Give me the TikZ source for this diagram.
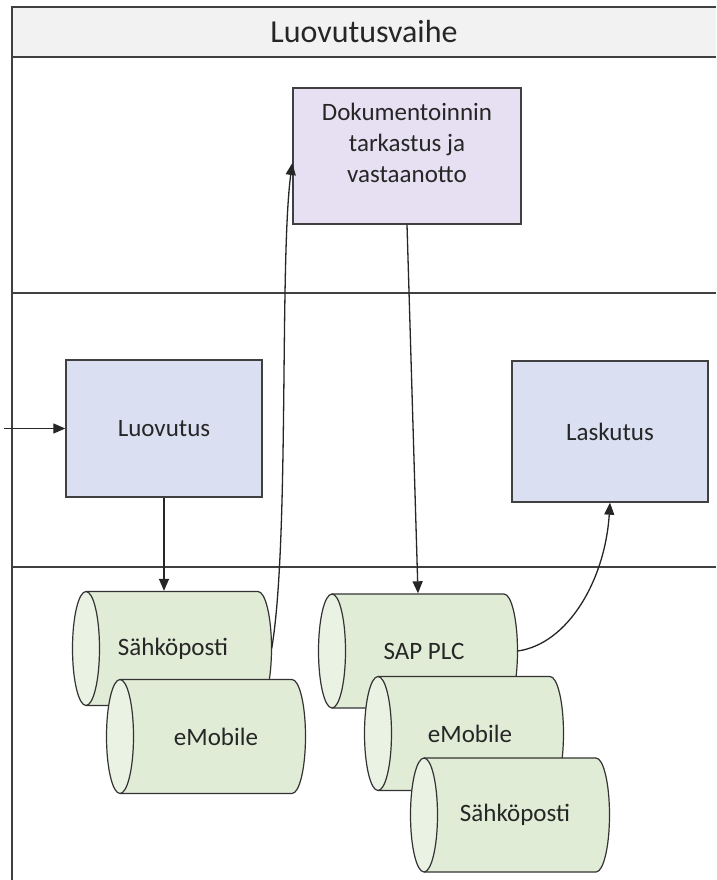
\documentclass[tikz,border=0pt]{standalone}
\usepackage{fontspec}
\setmainfont{Carlito}
\usetikzlibrary{arrows.meta}
\definecolor{frameline}{RGB}{64,64,64}
\definecolor{headfill}{RGB}{242,242,242}
\definecolor{taskfill}{RGB}{218,224,242}
\definecolor{reviewfill}{RGB}{230,224,242}
\definecolor{drumfill}{RGB}{224,236,214}
\definecolor{drumface}{RGB}{234,242,228}
\definecolor{ink}{RGB}{38,38,38}

% horizontal data store: #1 name, #2 centre x, #3 centre y, #4 text, #5 text offset
\newcommand\drumshape[5]{%
  \fill[drumfill] (#2-86,#3-57) -- (#2+86,#3-57)
    arc[start angle=90,end angle=-90,x radius=13.5pt,y radius=57pt]
    -- (#2-86,#3+57) -- cycle;
  \draw[drumline] (#2-86,#3-57) -- (#2+86,#3-57)
    arc[start angle=90,end angle=-90,x radius=13.5pt,y radius=57pt]
    -- (#2-86,#3+57);
  \draw[drumline, fill=drumface] (#2-86,#3) ellipse[x radius=13.5pt,y radius=57pt];
  \node[drumhold] (#1) at (#2,#3) {};
  \node[lbl] (#1-text) at (#2+#5,#3) {#4};
}

\begin{document}
\begin{tikzpicture}[x=1pt,y=-1pt,
  lane/.style={draw=frameline, line width=1.8pt},
  task/.style={draw=frameline, line width=1.4pt, inner sep=0pt,
    font=\fontsize{25}{31}\selectfont, text=ink, align=center},
  drumline/.style={draw=black!80, line width=1.2pt},
  drumhold/.style={inner sep=0pt, minimum width=199pt, minimum height=115pt},
  lbl/.style={font=\fontsize{25}{31}\selectfont, text=ink, align=center, inner sep=0pt},
  flow/.style={draw=black!85, line width=1.3pt, -{Triangle[length=12pt,width=10pt]}},
]
\useasboundingbox (0,0) rectangle (716,880);
\fill[white] (0,0) rectangle (716,880);

% header band and swimlane rules
\fill[headfill] (12,7) rectangle (716,57);
\node[lbl, font=\fontsize{32}{38}\selectfont] (title) at (364,32) {Luovutusvaihe};
\draw[lane] (716,7) -- (12,7) -- (12,880);
\draw[lane] (12,57) -- (716,57);
\draw[lane] (12,293) -- (716,293);
\draw[lane] (12,567) -- (716,567);

% process steps
\node[task, fill=reviewfill, minimum width=228pt, minimum height=136pt] (dok) at (407,156) {};
\node[lbl] (dok-text) at (407,143) {Dokumentoinnin\\tarkastus ja\\vastaanotto};
\node[task, fill=taskfill, minimum width=196pt, minimum height=137pt] (luov) at (164,428.5) {Luovutus};
\node[task, fill=taskfill, minimum width=196pt, minimum height=141pt] (las) at (610,431.5) {Laskutus};

% data stores
\drumshape{s1}{172}{648.5}{Sähköposti}{1}
\drumshape{e1}{206}{736.5}{eMobile}{10}
\drumshape{sap}{418}{651}{SAP PLC}{6}
\drumshape{e2}{464}{733.5}{eMobile}{6}
\drumshape{s2}{510}{815}{Sähköposti}{5}

% flows
\coordinate (entry) at (4,428.5);
\draw[flow] (entry) -- (luov.west);
\draw[flow] (luov.south) -- (luov.south |- s1.north);
\draw[flow] (s1.east) .. controls +(18,-107) and +(-13,97) .. ([yshift=-7pt]dok.west);
\draw[flow] (dok.south) -- (sap.north);
\draw[flow] (sap.east) .. controls +(50,-7) and +(-5,78) .. (las.south);
\end{tikzpicture}
\end{document}
